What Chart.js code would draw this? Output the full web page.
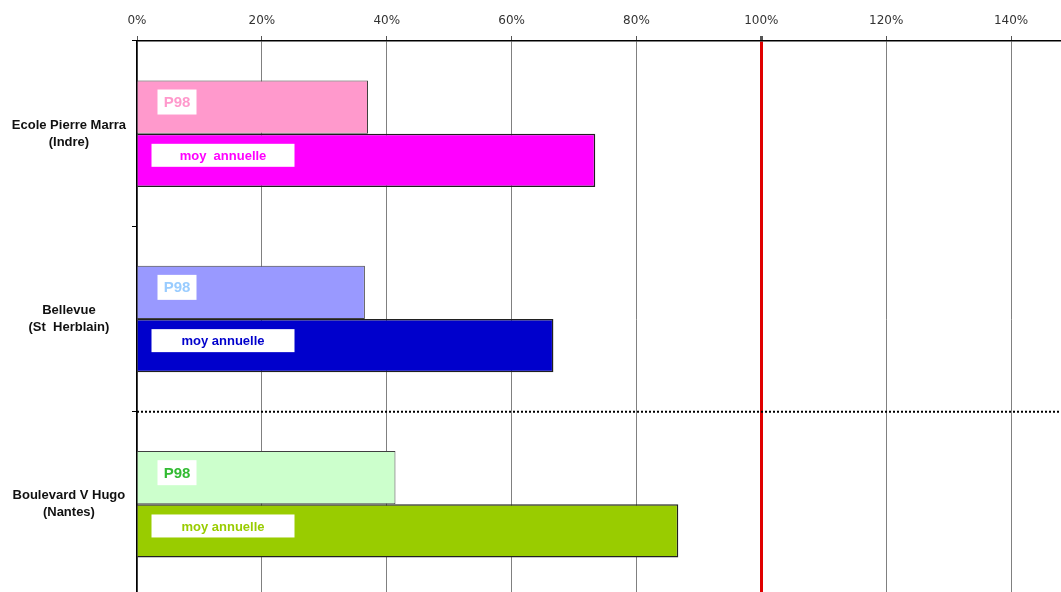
<!DOCTYPE html>
<html>
<head>
<meta charset="UTF-8">
<title>P98 / moyenne annuelle</title>
<script src="https://cdn.jsdelivr.net/npm/chart.js@4.4.1/dist/chart.umd.min.js"></script>
<style>
  body { margin: 0; overflow: hidden; background: #fff; }
  #wrap { position: relative; width: 1061px; height: 598px; }
</style>
</head>
<body>
<div id="wrap"><canvas id="chart"></canvas></div>
<script>
// data (% of limit value)
const sites = [["Ecole Pierre Marra", "(Indre)"], ["Bellevue", "(St  Herblain)"], ["Boulevard V Hugo", "(Nantes)"]];
const p98 = [37.0, 36.5, 41.4];
const moyAnnuelle = [73.4, 66.7, 86.7];
const p98Labels = ["P98", "P98", "P98"];
const moyLabels = ["moy  annuelle", "moy annuelle", "moy annuelle"];
const xMax = 148;
const limit = 100;

// colours
const p98Fill = ["#FF99CC", "#9999FF", "#CCFFCC"];
const moyFill = ["#FF00FF", "#0000CC", "#99CC00"];
const p98Text = ["#FF99CC", "#99CCFF", "#33BB33"];
const moyText = ["#FF00FF", "#0000CC", "#99CC00"];

const FONT = "'Liberation Sans', Arial, sans-serif";

// white label boxes inside the bars + dotted separator
const boxLabels = {
    id: "boxLabels",
    afterDatasetsDraw(chart) {
        const ctx = chart.ctx;
        const area = chart.chartArea;
        const y = chart.scales.y;

        // dotted line between 2nd and 3rd site
        const sep = (y.getPixelForValue(1) + y.getPixelForValue(2)) / 2;
        ctx.save();
        ctx.strokeStyle = "#000";
        ctx.lineWidth = 2;
        ctx.setLineDash([2, 2]);
        ctx.beginPath();
        ctx.moveTo(area.left, sep);
        ctx.lineTo(area.right, sep);
        ctx.stroke();
        ctx.restore();

        const sets = [
            { texts: p98Labels, colors: p98Text, dx: 20, w: 39, h: 25, size: 15 },
            { texts: moyLabels, colors: moyText, dx: 14, w: 143, h: 23, size: 13 }
        ];
        sets.forEach((s, d) => {
            chart.getDatasetMeta(d).data.forEach((bar, i) => {
                const bx = bar.base + s.dx;
                const by = bar.y - 5 - s.h / 2;
                ctx.save();
                ctx.fillStyle = "#fff";
                ctx.fillRect(bx, by, s.w, s.h);
                ctx.fillStyle = s.colors[i];
                ctx.font = "bold " + s.size + "px " + FONT;
                ctx.textAlign = "center";
                ctx.textBaseline = "middle";
                ctx.fillText(s.texts[i], bx + s.w / 2, by + s.h / 2 + 1);
                ctx.restore();
            });
        });
    }
};

new Chart(document.getElementById("chart"), {
    type: "bar",
    data: {
        labels: sites,
        datasets: [
            {
                label: "P98",
                data: p98,
                backgroundColor: p98Fill,
                borderColor: "#404040",
                borderWidth: 1,
                borderSkipped: "start",
                barPercentage: 1,
                categoryPercentage: 0.575
            },
            {
                label: "moy annuelle",
                data: moyAnnuelle,
                backgroundColor: moyFill,
                borderColor: "#202020",
                borderWidth: 1.5,
                borderSkipped: "start",
                barPercentage: 1,
                categoryPercentage: 0.575
            }
        ]
    },
    options: {
        indexAxis: "y",
        responsive: true,
        maintainAspectRatio: false,
        animation: false,
        layout: { padding: { top: 0, right: 0, bottom: 1, left: 0 } },
        plugins: {
            legend: { display: false },
            tooltip: { enabled: false }
        },
        scales: {
            x: {
                position: "top",
                min: 0,
                max: xMax,
                afterFit: s => { s.height = 41; s.paddingLeft = 0; s.paddingRight = 0; },
                ticks: {
                    stepSize: 20,
                    includeBounds: false,
                    padding: 8,
                    color: "#333",
                    font: { family: "'DejaVu Sans', sans-serif", size: 12 },
                    callback: v => v + "%"
                },
                grid: {
                    color: c => (c.tick && c.tick.value === limit) ? "#E00000" : "#808080",
                    lineWidth: c => (c.tick && c.tick.value === limit) ? 3 : 1,
                    tickColor: "#555",
                    tickLength: 5
                },
                border: { color: "#000", width: 1.5 }
            },
            y: {
                afterFit: s => { s.width = 137; s.paddingTop = 0; s.paddingBottom = 0; },
                ticks: {
                    crossAlign: "center",
                    padding: 6,
                    color: "#111",
                    font: { family: FONT, size: 13, weight: "bold", lineHeight: 1.3 }
                },
                grid: {
                    display: true,
                    drawOnChartArea: false,
                    offset: true,
                    tickLength: 5,
                    color: "#000"
                },
                border: { color: "#000", width: 1.5 }
            }
        }
    },
    plugins: [boxLabels]
});
</script>
</body>
</html>
